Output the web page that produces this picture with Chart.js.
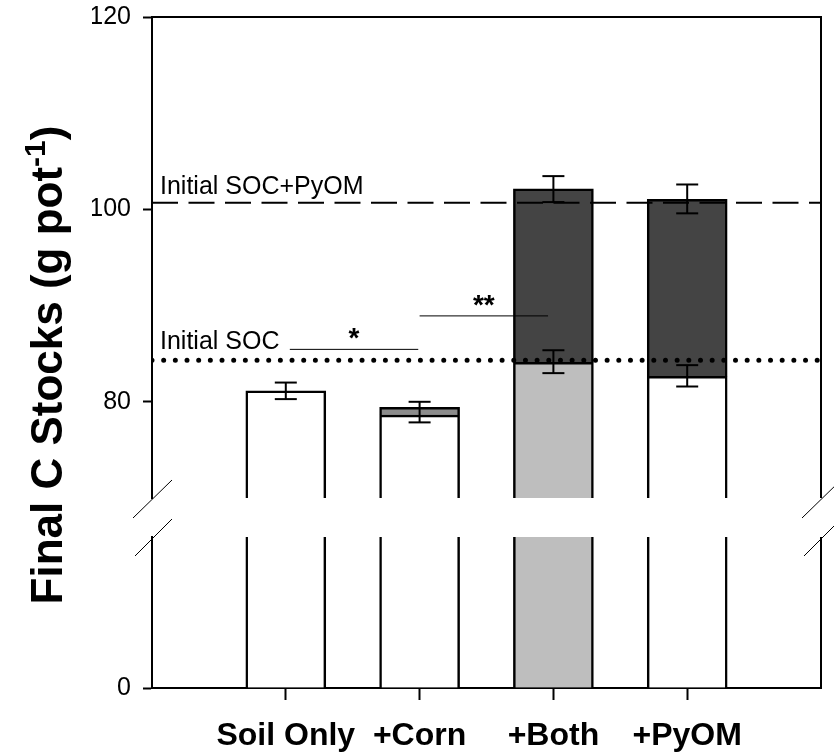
<!DOCTYPE html>
<html lang="en">
<head>
<meta charset="utf-8">
<title>Final C Stocks</title>
<script src="https://cdn.jsdelivr.net/npm/chart.js@4.4.1/dist/chart.umd.min.js"></script>
<style>
  html, body { margin: 0; padding: 0; background: #fff; }
  #wrap { width: 834px; height: 753px; position: relative; }
</style>
</head>
<body>
<div id="wrap"><canvas id="stocks"></canvas></div>
<script>
// treatments, placed at 1..4 on a 0..5 axis
var treatments = ['Soil Only', '+Corn', '+Both', '+PyOM'];

// stacked bar segments (g C pot-1)
var lowerC = [81.14, 78.62, 84.09, 82.64];
var upperC = [null, 0.80, 18.06, 18.40];

// error bars: mean and half-width
var totalMean = [81.14, 78.93, 102.11, 101.09];
var totalErr = [0.86, 1.07, 1.35, 1.50];
var lowerMean = [null, null, 84.17, 82.70];
var lowerErr = [null, null, 1.19, 1.11];

// initial stocks
var initialSOC = 84.33;
var initialSOCPyOM = 100.70;

// significance lines: [x from, x to, y]
var sigLines = [[1.03, 1.99, 85.45], [2.0, 2.96, 88.93]];
var sigMarks = ['*', '**'];

var upperTicks = [80, 100, 120];
var lowerTicks = [0];

var FONT = '"Liberation Sans", Arial, sans-serif';

function toPoints(arr) {
  return arr.map(function (v, i) { return { x: i + 1, y: v }; });
}

function errPoints(mean, err) {
  var out = [];
  mean.forEach(function (m, i) {
    if (m == null) return;
    out.push({ x: i + 1, y: m - err[i] }, { x: i + 1, y: m + err[i] }, { x: i + 1, y: null });
  });
  return out;
}

function hLine(y, x0, x1) {
  return [{ x: x0, y: y }, { x: x1, y: y }];
}

// frame on top/right and the axis break marks
var framePlugin = {
  id: 'frame',
  afterDatasetsDraw: function (chart) {
    var ctx = chart.ctx, a = chart.chartArea;
    var top = chart.scales.yTop, bot = chart.scales.yBot;
    ctx.save();
    ctx.strokeStyle = '#000';
    ctx.lineWidth = 2;
    ctx.beginPath();
    ctx.moveTo(a.left, a.top); ctx.lineTo(a.right + 1, a.top);
    ctx.moveTo(a.right, a.top); ctx.lineTo(a.right, top.bottom);
    ctx.moveTo(a.right, bot.top); ctx.lineTo(a.right, a.bottom);
    ctx.stroke();
    ctx.lineWidth = 1;
    [a.left, a.right].forEach(function (x) {
      ctx.beginPath();
      ctx.moveTo(x - 19, top.bottom + 20); ctx.lineTo(x + 20, top.bottom - 18);
      ctx.moveTo(x - 17, bot.top + 19); ctx.lineTo(x + 20, bot.top - 18);
      ctx.stroke();
    });
    ctx.restore();
  }
};

// axis title with superscript, reference-line labels, asterisks
var textPlugin = {
  id: 'texts',
  afterDraw: function (chart) {
    var ctx = chart.ctx, xs = chart.scales.x, ys = chart.scales.yTop;
    ctx.save();
    ctx.fillStyle = '#000';

    var big = 'bold 44px ' + FONT, small = 'bold 30px ' + FONT;
    var main = 'Final C Stocks (g pot', sup = '-1', tail = ')';
    ctx.font = big;
    var w1 = ctx.measureText(main).width, w3 = ctx.measureText(tail).width;
    ctx.font = small;
    var w2 = ctx.measureText(sup).width;
    var sx = -(w1 + w2 + w3) / 2;
    ctx.save();
    ctx.translate(62, 365);
    ctx.rotate(-Math.PI / 2);
    ctx.textAlign = 'left';
    ctx.textBaseline = 'alphabetic';
    ctx.font = big; ctx.fillText(main, sx, 0);
    ctx.font = small; ctx.fillText(sup, sx + w1, -17);
    ctx.font = big; ctx.fillText(tail, sx + w1 + w2, 0);
    ctx.restore();

    ctx.font = '25px ' + FONT;
    ctx.textAlign = 'left';
    ctx.textBaseline = 'alphabetic';
    ctx.fillText('Initial SOC+PyOM', xs.left + 8, ys.getPixelForValue(initialSOCPyOM) - 9);
    ctx.fillText('Initial SOC', xs.left + 8, ys.getPixelForValue(sigLines[0][2]));

    ctx.font = 'bold 28px ' + FONT;
    ctx.textAlign = 'center';
    sigLines.forEach(function (s, i) {
      var cx = xs.getPixelForValue((s[0] + s[1]) / 2);
      ctx.fillText(sigMarks[i], cx, ys.getPixelForValue(s[2]) - 2);
    });
    ctx.restore();
  }
};

var lowerColors = ['#ffffff', '#ffffff', '#bebebe', '#ffffff'];
var upperColors = ['#ffffff', '#8c8c8c', '#444444', '#444444'];

var barBase = {
  type: 'bar', xAxisID: 'x', stack: 'bars', barThickness: 80,
  borderColor: '#000', borderWidth: 2.5, clip: 0, order: 5
};

var datasets = [
  Object.assign({}, barBase, { label: 'lower', data: toPoints(lowerC), yAxisID: 'yTop', backgroundColor: lowerColors }),
  Object.assign({}, barBase, { label: 'upper', data: toPoints(upperC), yAxisID: 'yTop', backgroundColor: upperColors }),
  Object.assign({}, barBase, { label: 'lower (broken)', data: toPoints(lowerC), yAxisID: 'yBot', backgroundColor: lowerColors }),
  {
    type: 'line', label: 'Initial SOC+PyOM', data: hLine(initialSOCPyOM, 0, 5), yAxisID: 'yTop', stack: 'l1',
    borderColor: '#000', borderWidth: 2, borderDash: [26, 10.5], pointRadius: 0, order: 2
  },
  {
    type: 'line', label: 'Initial SOC', data: hLine(initialSOC, 0, 5), yAxisID: 'yTop', stack: 'l2',
    borderColor: '#000', borderWidth: 5, borderDash: [0, 11.67], borderCapStyle: 'round', pointRadius: 0, order: 2
  }
];

sigLines.forEach(function (s, i) {
  datasets.push({
    type: 'line', label: 'sig' + i, data: hLine(s[2], s[0], s[1]), yAxisID: 'yTop', stack: 'sig' + i,
    borderColor: '#000', borderWidth: 1, pointRadius: 0, order: 2
  });
});

[[totalMean, totalErr], [lowerMean, lowerErr]].forEach(function (e, i) {
  datasets.push({
    type: 'line', label: 'err' + i, data: errPoints(e[0], e[1]), yAxisID: 'yTop', stack: 'err' + i,
    borderColor: '#000', borderWidth: 2, showLine: true, spanGaps: false,
    pointStyle: 'line', pointRadius: 11, pointBorderWidth: 2, pointBorderColor: '#000', order: 1
  });
});

function yAxis(opts) {
  return Object.assign({
    type: 'linear', position: 'left', stack: 'left', stacked: true,
    grid: { display: true, drawOnChartArea: false, drawTicks: true, tickLength: 9, tickColor: '#000', tickWidth: 2 },
    border: { display: true, color: '#000', width: 2 },
    ticks: { color: '#000', font: { family: FONT, size: 25 }, padding: 12 },
    afterFit: function (s) { s.width = 60; s.paddingTop = 0; s.paddingBottom = 0; }
  }, opts);
}

new Chart(document.getElementById('stocks'), {
  type: 'bar',
  data: { datasets: datasets },
  options: {
    responsive: true,
    maintainAspectRatio: false,
    animation: false,
    events: [],
    layout: { padding: { left: 92, right: 10, top: 17, bottom: 0 } },
    plugins: { legend: { display: false }, tooltip: { enabled: false } },
    scales: {
      x: {
        type: 'linear', position: 'bottom', min: 0, max: 5, offset: false, stacked: true,
        grid: { offset: false, drawOnChartArea: false, drawTicks: true, tickLength: 12, tickColor: '#000', tickWidth: 2 },
        border: { display: true, color: '#000', width: 2 },
        ticks: {
          color: '#000', font: { family: FONT, size: 32, weight: 'bold' }, padding: 17,
          autoSkip: false, maxRotation: 0,
          callback: function (v) { return treatments[v - 1]; }
        },
        afterBuildTicks: function (s) { s.ticks = treatments.map(function (t, i) { return { value: i + 1 }; }); },
        afterFit: function (s) { s.height = 65; }
      },
      yTop: yAxis({
        min: 70, max: 120, stackWeight: 481, weight: 3,
        afterBuildTicks: function (s) { s.ticks = upperTicks.map(function (v) { return { value: v }; }); }
      }),
      yGap: yAxis({
        min: 0, max: 1, stackWeight: 39, weight: 2,
        grid: { display: false }, border: { display: false }, ticks: { display: false }
      }),
      yBot: yAxis({
        min: 0, max: 10, stackWeight: 151, weight: 1,
        afterBuildTicks: function (s) { s.ticks = lowerTicks.map(function (v) { return { value: v }; }); }
      })
    }
  },
  plugins: [framePlugin, textPlugin]
});
</script>
</body>
</html>
